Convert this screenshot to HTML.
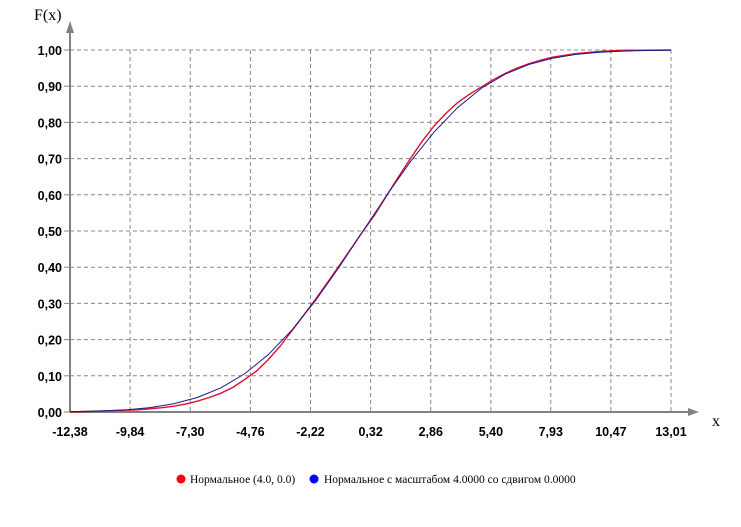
<!DOCTYPE html>
<html><head><meta charset="utf-8"><style>
body{margin:0;background:#fff;}
</style></head><body>
<svg id="chart" width="741" height="522" xmlns="http://www.w3.org/2000/svg" font-family="Liberation Sans, sans-serif"></svg>
<script>
const xTicks=[-12.38,-9.84,-7.30,-4.76,-2.22,0.32,2.86,5.40,7.93,10.47,13.01];
const xTickLabels=["-12,38","-9,84","-7,30","-4,76","-2,22","0,32","2,86","5,40","7,93","10,47","13,01"];
const yTicks=[0,0.1,0.2,0.3,0.4,0.5,0.6,0.7,0.8,0.9,1.0];
const yTickLabels=["0,00","0,10","0,20","0,30","0,40","0,50","0,60","0,70","0,80","0,90","1,00"];
const blueX=[-12.38,-12,-11,-10,-9,-8,-7,-6,-5,-4,-3,-2,-1,0,1,2,3,4,5,6,7,8,9,10,11,12,13.01];
const blueY=[0.001,0.0013,0.003,0.0062,0.0122,0.0228,0.040,0.0668,0.1056,0.1587,0.2266,0.3085,0.4013,0.5,0.5987,0.6915,0.7734,0.8413,0.8944,0.9332,0.96,0.9772,0.9878,0.9938,0.997,0.9987,0.9994];
const redX=[-12.38,-10.5,-9.5,-9,-8.5,-8,-7.5,-7,-6.5,-6,-5.5,-5,-4.5,-4,-3.5,-3,-2.5,-2,-1.5,-1,-0.5,0,0.5,1,1.5,2,2.5,3,3.5,4,4.5,5,5.5,6,6.5,7,7.5,8,9,10,11,13.01];
const redY=[0,0.004,0.006,0.009,0.012,0.016,0.022,0.030,0.040,0.052,0.068,0.090,0.113,0.145,0.182,0.225,0.268,0.312,0.358,0.405,0.452,0.5,0.545,0.598,0.650,0.700,0.748,0.790,0.825,0.855,0.878,0.898,0.918,0.935,0.950,0.962,0.972,0.980,0.990,0.996,0.999,1.0];
const NS="http://www.w3.org/2000/svg";
const svg=document.getElementById('chart');
const X0=70,X1=671,Y0=412,Y1=50;
const xs=v=>X0+(v-xTicks[0])/(xTicks[xTicks.length-1]-xTicks[0])*(X1-X0);
const ys=v=>Y0-v*(Y0-Y1);
function mk(t,a){const e=document.createElementNS(NS,t);for(const k in a)e.setAttribute(k,a[k]);svg.appendChild(e);return e;}
yTicks.forEach((v,i)=>{
 if(i>0){const g=mk('line',{x1:X0,x2:X1,y1:ys(v),y2:ys(v),stroke:'#888','stroke-dasharray':'4,3'});
 
 }
 const tk=mk('line',{x1:X0-6,x2:X0,y1:ys(v),y2:ys(v),stroke:'#888'});
 
 
 const t=mk('text',{x:X0-8,y:ys(v)+5,'text-anchor':'end','font-size':12.5,'font-weight':'bold',fill:'#000'});
 t.textContent=yTickLabels[i];
 
 
});
xTicks.forEach((v,i)=>{
 if(i>0){const g=mk('line',{x1:xs(v),x2:xs(v),y1:Y1,y2:Y0,stroke:'#888','stroke-dasharray':'4,3'});
 
 }
 const t=mk('text',{x:xs(v),y:Y0+24,'text-anchor':'middle','font-size':12.5,'font-weight':'bold',fill:'#000'});
 t.textContent=xTickLabels[i];
 
 
});
const ax=mk('line',{x1:X0,x2:X0,y1:Y0,y2:24,stroke:'#808080','stroke-width':2});


const ah=mk('polygon',{points:`${X0-4},33 ${X0+4},33 ${X0},21`,fill:'#808080'});


const axx=mk('line',{x1:X0,x2:695,y1:Y0,y2:Y0,stroke:'#808080','stroke-width':2});


const ahx=mk('polygon',{points:`688,${Y0-4} 688,${Y0+4} 699,${Y0}`,fill:'#808080'});


const yt=mk('text',{x:34,y:20,'font-size':16,fill:'#000','font-family':'Liberation Serif, serif'});
yt.textContent='F(x)';


const xt=mk('text',{x:712,y:426,'font-size':16,fill:'#000','font-family':'Liberation Serif, serif'});
xt.textContent='x';


const rp=mk('polyline',{points:redX.map((v,i)=>xs(v)+','+ys(redY[i])).join(' '),fill:'none',stroke:'#e0102a','stroke-width':1.4});


const bp=mk('polyline',{points:blueX.map((v,i)=>xs(v)+','+ys(blueY[i])).join(' '),fill:'none',stroke:'#1a1a90','stroke-width':1});


const l1=mk('circle',{cx:181,cy:479,r:4.5,fill:'#f00'});


const lt1=mk('text',{x:190,y:483,'font-size':11.5,'font-family':'Liberation Serif, serif',fill:'#000'});
lt1.textContent='Нормальное (4.0, 0.0)';


const l2=mk('circle',{cx:314,cy:479,r:4.5,fill:'#00f'});


const lt2=mk('text',{x:324,y:483,'font-size':11.5,'font-family':'Liberation Serif, serif',fill:'#000'});
lt2.textContent='Нормальное с масштабом 4.0000 со сдвигом 0.0000';


</script>
</body></html>
